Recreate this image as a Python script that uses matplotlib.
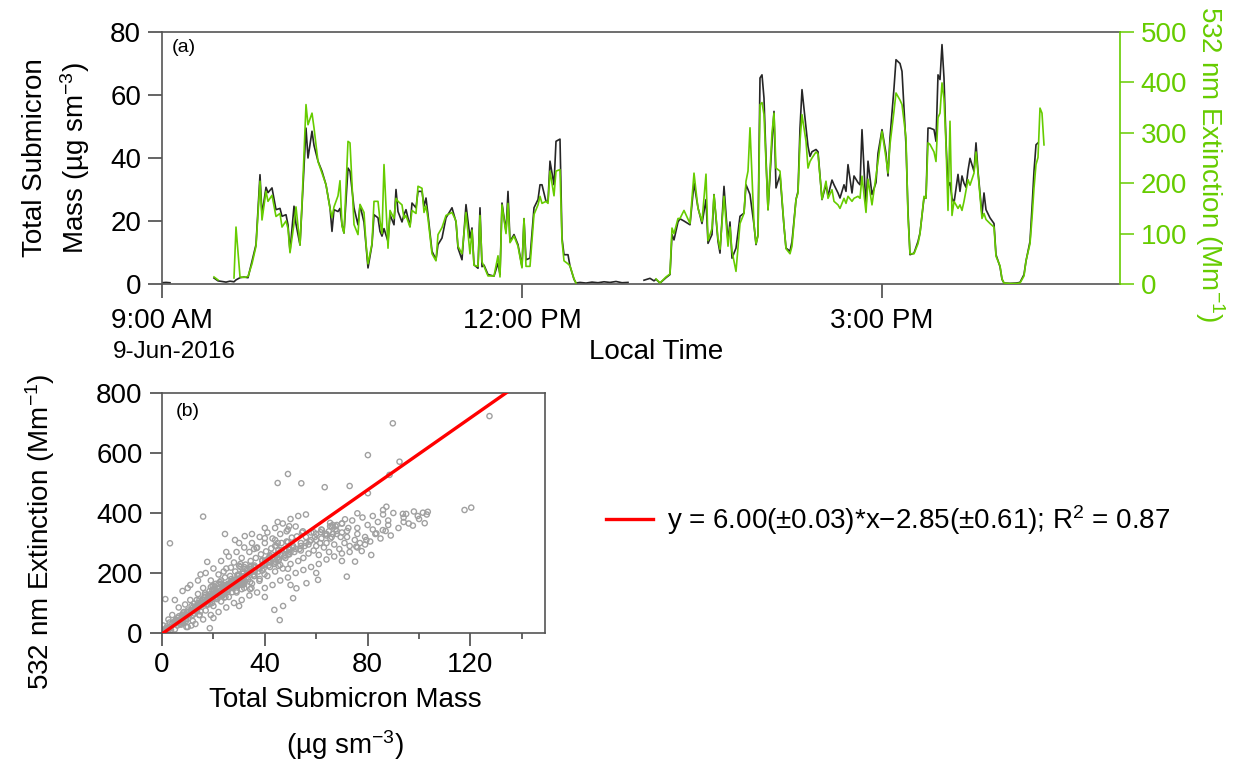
import numpy as np
import matplotlib
matplotlib.use('Agg')
import matplotlib.pyplot as plt
from matplotlib.lines import Line2D

nan = np.nan

######################################### DANE
# minutes after 09:00 local time, 9-Jun-2016
t_min = [0, 2, 4, 6, 26, 28, 30, 32, 34, 36, 37, 39, 41, 43, 45, 47, 49, 50, 52, 53,
         55, 57, 59, 60, 62, 63, 64, 66, 67, 69, 70, 72, 73, 75, 76, 78, 80, 82, 84, 85,
         86, 88, 89, 90, 91, 93, 94, 96, 98, 99, 101, 102, 103, 105, 106, 108, 109, 110, 111, 113,
         114, 116, 117, 118, 120, 121, 122, 124, 125, 127, 128, 130, 131, 132, 133, 135, 137, 138, 140, 142,
         145, 147, 148, 150, 152, 154, 155, 156, 158, 159, 160, 161, 163, 166, 168, 169, 170, 172, 173, 174,
         176, 178, 180, 181, 182, 184, 186, 188, 189, 190, 192, 193, 194, 196, 197, 199, 200, 201, 203, 204,
         206, 207, 209, 212, 215, 218, 221, 224, 227, 230, 233, 235, 241, 244, 246, 247, 249, 252, 254, 255,
         256, 258, 259, 261, 264, 266, 268, 270, 272, 273, 275, 276, 278, 279, 281, 283, 284, 285, 287, 289,
         291, 292, 293, 294, 296, 297, 298, 299, 300, 301, 302, 303, 305, 306, 307, 309, 311, 312, 314, 315,
         317, 318, 319, 320, 322, 323, 324, 325, 327, 328, 329, 330, 332, 333, 335, 336, 338, 339, 341, 342,
         343, 345, 346, 348, 349, 350, 352, 353, 355, 357, 358, 360, 362, 363, 364, 366, 367, 369, 370, 372,
         373, 374, 376, 378, 379, 381, 382, 383, 384, 386, 387, 388, 389, 390, 391, 392, 393, 394, 395, 396,
         398, 399, 400, 401, 402, 403, 404, 406, 407, 408, 410, 411, 412, 414, 416, 417, 419, 420, 421, 424,
         427, 429, 431, 432, 434, 435, 436, 437, 438, 439, 440, 441]

# total submicron mass, ug sm-3
mass = [0.4, 0.5, 0.4, nan, 1.9, 1.0, 0.8, 0.6, 0.9, 0.7, 1.3, 2.0, 2.2, 2.0, 7.3, 12.5, 34.7, 22.0, 30.7, 29.0,
        30.5, 23.6, 24.0, 21.5, 22.0, 18.8, 10.4, 24.7, 19.0, 12.4, 25.0, 49.5, 40.0, 48.5, 44.0, 39.0, 35.8, 31.5, 24.2, 16.7,
        23.6, 23.0, 24.0, 18.8, 16.2, 36.8, 35.8, 24.2, 18.8, 25.0, 19.6, 12.5, 5.1, 12.5, 22.0, 21.0, 16.7, 15.2, 17.6, 13.5,
        22.0, 18.8, 30.0, 23.0, 19.7, 22.0, 23.6, 18.3, 25.7, 24.2, 29.4, 29.4, 24.7, 27.3, 22.0, 10.4, 7.7, 12.5, 14.6, 21.0,
        24.2, 19.7, 11.4, 7.7, 25.2, 14.6, 17.8, 6.1, 5.0, 24.2, 5.5, 6.0, 3.0, 2.5, 6.6, 3.0, 25.7, 16.7, 29.4, 13.5,
        15.7, 12.5, 5.5, 20.7, 7.7, 8.2, 24.2, 26.8, 31.5, 31.5, 26.2, 26.2, 39.0, 31.5, 45.3, 46.0, 14.6, 9.3, 9.3, 5.7,
        1.5, 0.3, 0.5, 0.3, 0.6, 0.4, 0.7, 0.5, 0.8, 0.4, 0.5, nan, 1.2, 1.8, 1.0, 1.5, 0.3, 2.0, 3.0, 15.7,
        14.0, 19.7, 20.7, 20.0, 18.8, 32.0, 24.2, 19.2, 26.8, 12.9, 15.7, 28.4, 13.5, 9.8, 31.0, 13.5, 19.7, 8.2, 11.4, 21.5,
        22.5, 31.5, 30.0, 28.4, 18.8, 12.5, 15.7, 65.4, 66.4, 59.0, 40.0, 23.6, 45.0, 54.8, 30.5, 34.7, 18.3, 11.4, 10.4, 13.5,
        26.8, 29.4, 49.5, 61.7, 49.5, 43.7, 40.5, 42.0, 42.7, 42.0, 34.3, 26.8, 31.5, 28.0, 33.0, 31.5, 28.9, 27.3, 31.5, 29.4,
        37.9, 28.9, 34.3, 32.2, 31.5, 49.0, 24.2, 39.0, 28.4, 32.2, 41.5, 49.0, 41.5, 34.3, 46.5, 62.2, 71.2, 70.0, 67.5, 44.0,
        23.0, 9.3, 9.8, 13.5, 16.2, 27.3, 27.3, 49.5, 49.5, 49.0, 45.3, 66.4, 64.9, 76.0, 65.4, 45.3, 31.0, 32.2, 27.3, 25.7,
        34.8, 29.4, 34.3, 32.0, 30.7, 36.0, 39.9, 35.8, 44.8, 35.8, 22.0, 28.9, 23.6, 21.0, 19.2, 9.3, 5.5, 1.5, 0.3, 0.2,
        0.3, 0.5, 3.0, 7.3, 13.5, 24.2, 35.8, 44.2, 44.8, nan, nan, nan]

# 532 nm extinction, Mm-1
ext = [nan, nan, nan, nan, 14, 8, nan, nan, nan, 12, 113, 14, 13, 15, 40, 75, 204, 127, 184, 164,
       176, 134, 140, 113, 125, 110, 62, 120, 153, 77, 160, 356, 316, 339, 310, 243, 220, 197, 150, 132,
       153, 175, 205, 115, 101, 283, 280, 118, 98, 158, 142, 80, 40, 80, 164, 164, 126, 100, 237, 71,
       146, 130, 170, 164, 157, 130, 136, 113, 146, 140, 194, 190, 142, 155, 130, 60, 46, 98, 112, 136,
       142, 125, 75, 60, 142, 60, 107, 37, 35, 136, 44, 35, 16, 16, 56, 14, 157, 100, 160, 82,
       95, 75, 32, 130, 35, 35, 138, 157, 174, 160, 164, 160, 224, 175, 224, 227, 86, 46, 40, 36,
       10, 2, nan, nan, nan, nan, nan, nan, nan, nan, nan, nan, nan, nan, nan, 10, 2, 14, 20, 111,
       100, 130, 130, 146, 120, 220, 150, 124, 218, 86, 110, 177, 90, 69, 174, 75, 113, 65, 25, 120,
       140, 204, 224, 310, 118, 80, 95, 356, 360, 336, 240, 147, 300, 339, 230, 224, 115, 70, 60, 75,
       168, 180, 283, 336, 283, 230, 243, 250, 262, 258, 214, 168, 204, 170, 187, 164, 157, 150, 170, 160,
       174, 164, 170, 174, 170, 214, 142, 208, 157, 214, 243, 303, 250, 220, 277, 343, 379, 365, 356, 290,
       135, 60, 60, 80, 100, 174, 170, 280, 277, 262, 243, 330, 339, 399, 367, 277, 146, 323, 136, 164,
       150, 157, 146, 164, 185, 207, 196, 220, 262, 220, 130, 140, 128, 120, 113, 55, 36, 10, 2, 1,
       1, 2, 16, 46, 80, 130, 190, 237, 251, 349, 339, 276]

# remaining campaign points for the mass / extinction regression
other_mass = [0.5, 1.5, 2.5, 3, 4, 5, 5.5, 6.5, 7, 8, 9, 9.5, 10.5, 11, 12, 13, 14, 14.5, 15.5, 16,
              17, 18, 19, 20, 21, 22, 23, 24, 25, 26, 27, 28, 29, 30, 31, 32, 33, 34, 35, 36,
              37, 38, 39, 40, 41, 42, 43, 44, 45, 46, 47, 48, 49, 50, 51, 52, 53, 54, 55, 56,
              57, 58, 59, 60, 61, 62, 63, 64, 65, 66, 67, 68, 69, 70, 71, 72, 73, 74, 75, 76,
              77, 78, 79, 80, 81, 82, 83, 84, 85, 86, 87, 88, 89, 90, 92, 94, 96, 98, 100, 103,
              89.8, 127.4, 80.1, 92.4, 88.5, 54.2, 45, 49, 73, 63.3, 80.1, 117.7, 120.3, 103.4, 101.5, 99.5, 95, 93.7, 102.2, 97.6,
              86, 87.3, 16, 3.1, 24.5, 81.4, 75.1, 71.9, 45.8, 18.6, 43.7, 47.1, 51, 52.3, 56.2, 60.7, 77.7, 75.6, 79.5, 83.4,
              85.9,
              2, 3.5, 4.5, 6, 7.5, 8.5, 10, 11.5, 12.5, 13.5, 15, 16.5, 17.5, 18.5, 19.5, 20.5, 21.5, 22.5, 23.5, 24.5,
              25.5, 26.5, 27.5, 28.5, 29.5, 30.5, 31.5, 32.5, 33.5, 34.5, 35.5, 36.5, 37.5, 38.5, 39.5, 40.5, 41.5, 42.5, 43.5, 44.5,
              45.5, 46.5, 47.5, 48.5, 49.5, 50.5, 51.5, 52.5, 53.5, 54.5, 55.5, 57.5, 59.5, 61.5, 63.5, 65.5, 67.5, 69.5, 72.5,
              3, 6, 9, 12, 15, 18, 21, 24, 27, 30, 33, 36, 39, 42, 45, 48, 51, 54, 57, 60,
              64, 68, 72, 76, 82, 88, 94,
              5, 8, 11, 14, 17, 20, 23, 26, 29, 32, 35, 38, 41, 44, 47, 50, 53, 56, 10, 15,
              25, 30, 35, 40, 45,
              10, 13, 16, 19, 22, 25, 28, 31, 34, 37, 40, 43, 46, 49, 52, 55, 58, 61, 64, 67,
              70, 73, 76, 79, 20, 30, 40, 50, 60, 70,
              4, 6, 8, 10, 12, 14, 16, 18, 20, 22, 24, 26, 28, 30, 32, 34, 36, 38, 40, 42,
              44, 46, 48, 50, 52, 54, 56, 58, 60, 62, 64, 66, 68, 70]
other_ext = [25, 4, 45, 18, 60, 12, 38, 85, 30, 52, 95, 20, 70, 110, 40, 88, 130, 60, 105, 150,
             75, 125, 175, 90, 140, 195, 105, 160, 215, 120, 180, 235, 135, 195, 250, 150, 210, 270, 165, 225,
             285, 180, 240, 300, 190, 255, 315, 205, 265, 330, 215, 280, 345, 230, 290, 355, 240, 300, 250, 320,
             265, 335, 275, 310, 260, 345, 285, 325, 270, 355, 295, 330, 280, 365, 300, 340, 290, 375, 310, 350,
             300, 385, 320, 360, 305, 390, 330, 370, 315, 395, 340, 375, 325, 400, 350, 385, 365, 405, 380, 395,
             699, 723, 593, 571, 527, 499, 500, 530, 490, 486, 466, 410, 418, 404, 401, 390, 397, 397, 366, 358,
             410, 421, 388, 299, 330, 260, 238, 188, 43, 16, 77, 90, 116, 149, 166, 177, 273, 288, 310, 332,
             343,
             22, 10, 35, 50, 28, 70, 48, 90, 65, 110, 72, 120, 95, 140, 100, 155, 118, 170, 125, 185,
             138, 190, 150, 205, 160, 220, 170, 228, 180, 240, 195, 250, 205, 262, 215, 272, 225, 282, 235, 290,
             245, 300, 255, 305, 262, 318, 270, 322, 280, 335, 290, 305, 320, 300, 330, 315, 345, 320, 350,
             35, 25, 60, 85, 95, 110, 130, 140, 165, 175, 195, 205, 225, 235, 250, 260, 285, 290, 295, 330,
             300, 360, 320, 330, 345, 360, 370,
             110, 140, 160, 175, 200, 215, 240, 255, 270, 285, 300, 320, 335, 350, 365, 380, 390, 395, 150, 195,
             270, 300, 330, 350, 370,
             20, 30, 45, 60, 70, 85, 100, 110, 125, 135, 150, 160, 175, 185, 200, 210, 220, 230, 245, 255,
             265, 270, 285, 295, 50, 90, 120, 160, 200, 240,
             30, 40, 35, 75, 60, 90, 100, 95, 120, 135, 130, 155, 165, 160, 190, 200, 190, 215, 230, 220,
             245, 260, 250, 270, 280, 275, 300, 310, 290, 315, 330, 320, 340, 335]

fit_slope = 6.00
fit_icpt = -2.85
fit_label = 'y = 6.00(\u00b10.03)*x\u22122.85(\u00b10.61); R$^2$ = 0.87'

time_ticks = [0, 180, 360]
time_labels = ['9:00 AM', '12:00 PM', '3:00 PM']

######################################### WYKRES
plt.rcParams['font.family'] = ['Liberation Sans', 'DejaVu Sans']
plt.rcParams['mathtext.fontset'] = 'custom'
plt.rcParams['mathtext.rm'] = 'Liberation Sans'
plt.rcParams['mathtext.it'] = 'Liberation Sans:italic'
plt.rcParams['font.size'] = 20

W, H = 1238, 761
green = '#66cc00'
dark = '#3a3a3a'

def fx(px):
    return px / W

def fy(py):
    return 1 - py / H

t = np.array(t_min, dtype=float)
m = np.array(mass, dtype=float)
e = np.array(ext, dtype=float)

fig = plt.figure(figsize=(W / 100, H / 100), dpi=100)

# (a) time series
ax1 = fig.add_axes([fx(162), fy(284), fx(1120) - fx(162), fy(32) - fy(284)])
ax1.plot(t, m, color='#262626', lw=1.2)
ax1.set_xlim(0, 479)
ax1.set_ylim(0, 80)
ax1.set_yticks([0, 20, 40, 60, 80])
ax1.set_xticks(time_ticks, time_labels)
ax1.tick_params(axis='both', direction='out', length=10, width=1.1, color=dark, pad=5)
ax1.tick_params(axis='x', pad=7)
for s in ['left', 'top', 'bottom']:
    ax1.spines[s].set_color('#555555')
    ax1.spines[s].set_linewidth(1.2)
ax1.spines['right'].set_visible(False)
ax1.text(0.0104, 0.94, '(a)', transform=ax1.transAxes, fontsize=14, va='center', ha='left')

ax2 = ax1.twinx()
ax2.plot(t, e, color=green, lw=1.2)
ax2.set_ylim(0, 500)
ax2.set_yticks([0, 100, 200, 300, 400, 500])
ax2.tick_params(axis='y', direction='out', length=10, width=1.1, color=green, labelcolor=green, pad=5)
for s in ['left', 'top', 'bottom']:
    ax2.spines[s].set_visible(False)
ax2.spines['right'].set_color(green)
ax2.spines['right'].set_linewidth(1.2)

fig.text(fx(35), fy(158), 'Total Submicron', rotation=90, ha='center', va='center')
fig.text(fx(75), fy(158), 'Mass (\u00b5g sm$^{-3}$)', rotation=90, ha='center', va='center')
fig.text(fx(1210), fy(164), '532 nm Extinction (Mm$^{-1}$)', rotation=270, ha='center', va='center', color=green)
fig.text(fx(113), fy(352), '9-Jun-2016', ha='left', va='center', fontsize=17.5)
fig.text(fx(656), fy(352), 'Local Time', ha='center', va='center')

# (b) extinction vs mass
ok = ~np.isnan(m) & ~np.isnan(e)
sx = np.concatenate([m[ok], np.array(other_mass)])
sy = np.concatenate([e[ok], np.array(other_ext)])

ax3 = fig.add_axes([fx(162), fy(633), fx(545) - fx(162), fy(393) - fy(633)])
ax3.scatter(sx, sy, s=14, facecolors='none', edgecolors='#a0a0a0', linewidths=1.0, zorder=2)
xs = np.array([0, 145.0])
ax3.plot(xs, fit_slope * xs + fit_icpt, color='red', lw=2.4, zorder=3)
ax3.set_xlim(0, 149)
ax3.set_ylim(0, 800)
ax3.set_xticks([0, 40, 80, 120])
ax3.set_xticks([20, 60, 100, 140], minor=True)
ax3.set_yticks([0, 200, 400, 600, 800])
ax3.tick_params(axis='both', which='major', direction='out', length=9, width=1.1, color=dark, pad=5)
ax3.tick_params(axis='x', which='minor', direction='out', length=4, width=1.1, color=dark)
for s in ax3.spines.values():
    s.set_color('#555555')
    s.set_linewidth(1.2)
ax3.text(0.0366, 0.921, '(b)', transform=ax3.transAxes, fontsize=14, va='center', ha='left')

fig.text(fx(40), fy(532), '532 nm Extinction (Mm$^{-1}$)', rotation=90, ha='center', va='center')
fig.text(fx(345), fy(700), 'Total Submicron Mass', ha='center', va='center')
fig.text(fx(345), fy(745), '(\u00b5g sm$^{-3}$)', ha='center', va='center')

fig.legend(handles=[Line2D([], [], color='red', lw=2.4)], labels=[fit_label],
           loc='center left', bbox_to_anchor=(fx(606), fy(520)), frameon=False,
           handlelength=1.7, handletextpad=0.5, borderpad=0, borderaxespad=0)

fig.savefig('out.png', dpi=100)
